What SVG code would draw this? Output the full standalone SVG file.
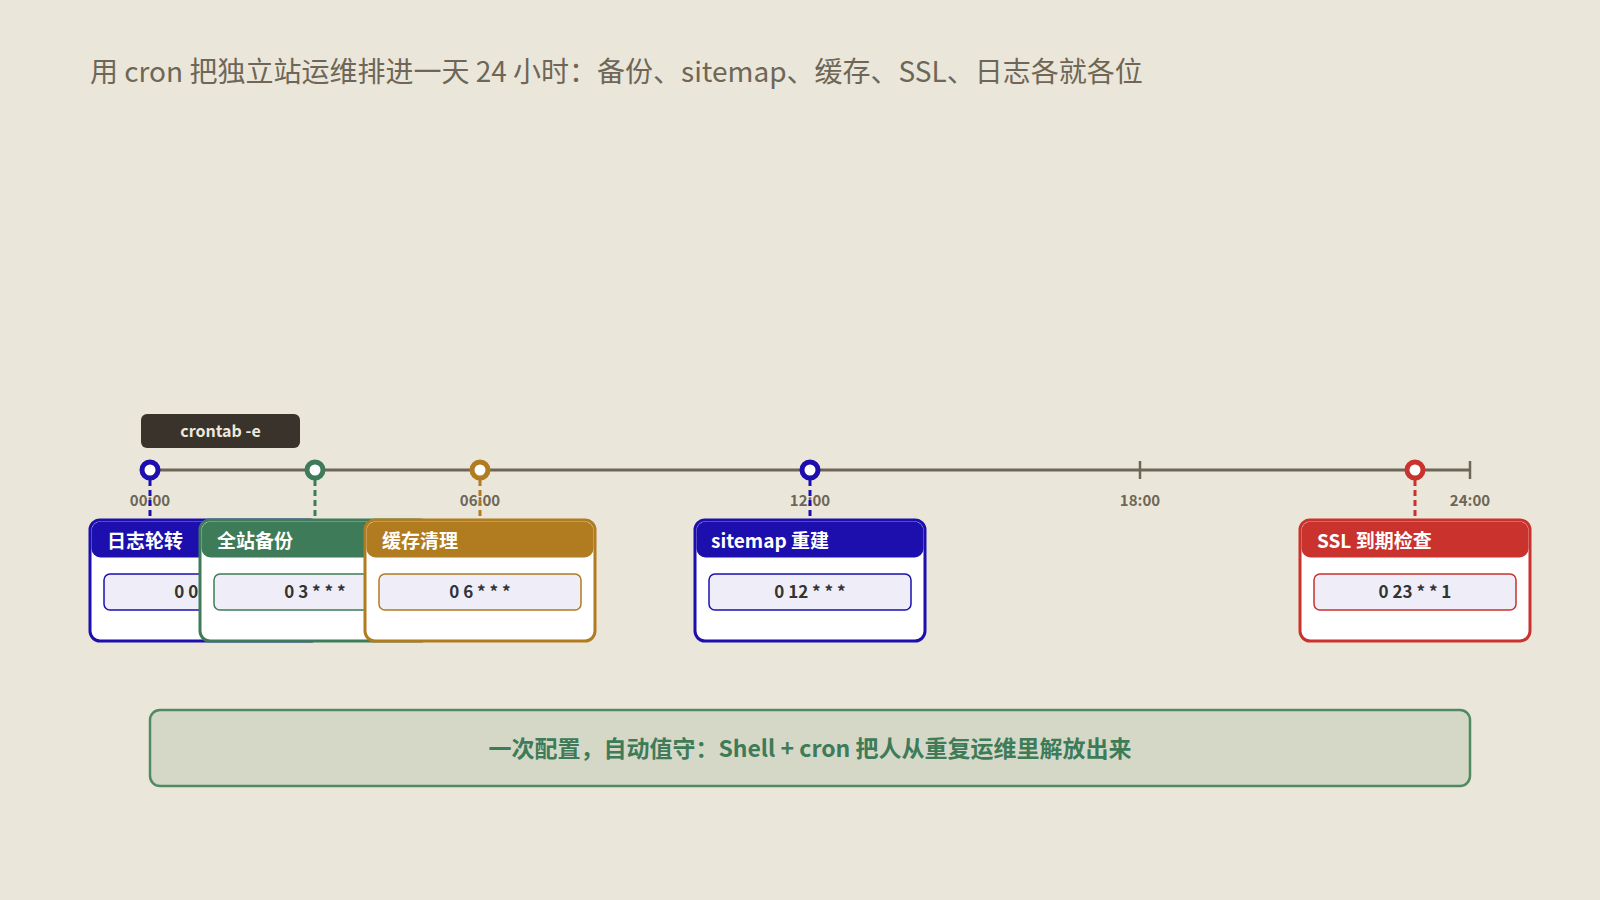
<svg xmlns="http://www.w3.org/2000/svg" width="1600" height="900" viewBox="0 0 1600 900">
<style>
text { font-family: "Noto Sans CJK SC", "Noto Sans", "Liberation Sans", sans-serif; }
.title { font-size: 28px; fill: #6e6656; }
.tl { stroke: #6e6656; stroke-width: 3; fill: none; }
.tick { stroke: #6e6656; stroke-width: 2.5; }
.time { font-size: 15px; font-weight: bold; fill: #6e6656; text-anchor: middle; }
.drop { stroke-width: 3; stroke-dasharray: 6 4; fill: none; }
.pin { fill: #ffffff; stroke-width: 5; }
.card { fill: #ffffff; }
.cardborder { fill: none; stroke-width: 3; }
.head { font-size: 19px; font-weight: bold; fill: #ffffff; }
.code { fill: #efeef8; stroke-width: 1.5; }
.codet { font-size: 17px; font-weight: bold; fill: #333333; text-anchor: middle; }
.blue { stroke: #1c0fae; } .bluef { fill: #1c0fae; }
.green { stroke: #3e7b58; } .greenf { fill: #3e7b58; }
.orange { stroke: #b17b1f; } .orangef { fill: #b17b1f; }
.red { stroke: #c9322d; } .redf { fill: #c9322d; }
</style>
<rect x="0" y="0" width="1600" height="900" fill="#ebe6da"/>
<text class="title" x="90" y="82">用 cron 把独立站运维排进一天 24 小时：备份、sitemap、缓存、SSL、日志各就各位</text>

<g id="timeline">
  <line class="tl" x1="150" y1="470" x2="1470" y2="470"/>
  <line class="tick" x1="1140" y1="461" x2="1140" y2="479"/>
  <line class="tick" x1="1470" y1="461" x2="1470" y2="479"/>
  <text class="time" x="150" y="506">00:00</text>
  <text class="time" x="480" y="506">06:00</text>
  <text class="time" x="810" y="506">12:00</text>
  <text class="time" x="1140" y="506">18:00</text>
  <text class="time" x="1470" y="506">24:00</text>
</g>

<g id="crontab">
  <rect x="141" y="414" width="159" height="34" rx="6" fill="#3a332b"/>
  <text x="220.5" y="437" font-size="16" font-weight="bold" fill="#eee8dc" text-anchor="middle">crontab -e</text>
</g>

<g id="connectors">
  <line class="drop blue" x1="150" y1="480" x2="150" y2="520"/>
  <line class="drop green" x1="315" y1="480" x2="315" y2="520"/>
  <line class="drop orange" x1="480" y1="480" x2="480" y2="520"/>
  <line class="drop blue" x1="810" y1="480" x2="810" y2="520"/>
  <line class="drop red" x1="1415" y1="480" x2="1415" y2="520"/>
</g>

<g id="pins">
  <circle class="pin blue" cx="150" cy="470" r="8"/>
  <circle class="pin green" cx="315" cy="470" r="8"/>
  <circle class="pin orange" cx="480" cy="470" r="8"/>
  <circle class="pin blue" cx="810" cy="470" r="8"/>
  <circle class="pin red" cx="1415" cy="470" r="8"/>
</g>

<g id="card-log">
  <rect class="card" x="90" y="520" width="230" height="121" rx="10"/>
  <rect class="bluef" x="91.5" y="521.5" width="227" height="36" rx="9"/>
  <rect class="cardborder blue" x="90" y="520" width="230" height="121" rx="10"/>
  <text class="head" x="107" y="548">日志轮转</text>
  <rect class="code blue" x="104" y="574" width="202" height="36" rx="6"/>
  <text class="codet" x="205" y="598">0 0 * * *</text>
</g>

<g id="card-backup">
  <rect class="card" x="200" y="520" width="230" height="121" rx="10"/>
  <rect class="greenf" x="201.5" y="521.5" width="227" height="36" rx="9"/>
  <rect class="cardborder green" x="200" y="520" width="230" height="121" rx="10"/>
  <text class="head" x="217" y="548">全站备份</text>
  <rect class="code green" x="214" y="574" width="202" height="36" rx="6"/>
  <text class="codet" x="315" y="598">0 3 * * *</text>
</g>

<g id="card-cache">
  <rect class="card" x="365" y="520" width="230" height="121" rx="10"/>
  <rect class="orangef" x="366.5" y="521.5" width="227" height="36" rx="9"/>
  <rect class="cardborder orange" x="365" y="520" width="230" height="121" rx="10"/>
  <text class="head" x="382" y="548">缓存清理</text>
  <rect class="code orange" x="379" y="574" width="202" height="36" rx="6"/>
  <text class="codet" x="480" y="598">0 6 * * *</text>
</g>

<g id="card-sitemap">
  <rect class="card" x="695" y="520" width="230" height="121" rx="10"/>
  <rect class="bluef" x="696.5" y="521.5" width="227" height="36" rx="9"/>
  <rect class="cardborder blue" x="695" y="520" width="230" height="121" rx="10"/>
  <text class="head" x="711" y="548">sitemap 重建</text>
  <rect class="code blue" x="709" y="574" width="202" height="36" rx="6"/>
  <text class="codet" x="810" y="598">0 12 * * *</text>
</g>

<g id="card-ssl">
  <rect class="card" x="1300" y="520" width="230" height="121" rx="10"/>
  <rect class="redf" x="1301.5" y="521.5" width="227" height="36" rx="9"/>
  <rect class="cardborder red" x="1300" y="520" width="230" height="121" rx="10"/>
  <text class="head" x="1317" y="548">SSL 到期检查</text>
  <rect class="code red" x="1314" y="574" width="202" height="36" rx="6"/>
  <text class="codet" x="1415" y="598">0 23 * * 1</text>
</g>

<g id="summary">
  <rect x="150" y="710" width="1320" height="76" rx="10" fill="#d6d8c7" stroke="#4f8a63" stroke-width="2.5"/>
  <text x="810" y="757" font-size="23" font-weight="bold" fill="#3e7b58" text-anchor="middle">一次配置，自动值守：Shell + cron 把人从重复运维里解放出来</text>
</g>
</svg>
